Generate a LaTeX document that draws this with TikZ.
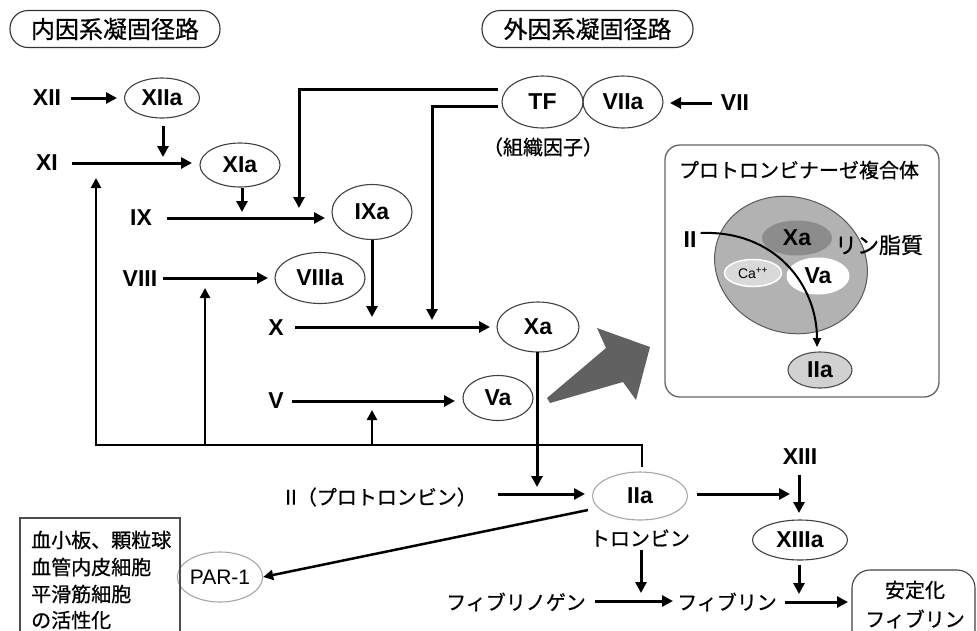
\documentclass[tikz,border=0pt]{standalone}
\usepackage{fontspec}
\setmainfont{Liberation Sans}
\newfontfamily\jp[FakeBold=0.7]{Noto Sans CJK JP}
\usetikzlibrary{arrows.meta,shapes.geometric,calc}
\begin{document}
\begin{tikzpicture}[x=1pt,y=-1pt,
  lbl/.style={font=\fontsize{23}{25}\selectfont\bfseries, inner sep=0pt},
  jtxt/.style={font=\jp\fontsize{20}{22}\selectfont, inner sep=0pt},
  ell/.style={ellipse, draw=black!75, line width=1.1pt, inner sep=0pt, font=\fontsize{23}{25}\selectfont\bfseries},
  lell/.style={ell, draw=black!35},
  arr/.style={line width=3pt, -{Triangle[length=11pt,width=11pt]}},
  farr/.style={line width=2.5pt, -{Triangle[length=10pt,width=10pt]}},
  ln/.style={line width=2.5pt},
  ttl/.style={draw=black!80, line width=1.1pt, rounded corners=18pt, minimum height=37pt, inner sep=0pt, font=\jp\fontsize{24}{26}\selectfont},
]
\useasboundingbox (0,0) rectangle (977,630);

% titles
\node[ttl, minimum width=210pt] (T1) at (115,29) {内因系凝固径路};
\node[ttl, minimum width=211pt] (T2) at (587.5,29) {外因系凝固径路};

% intrinsic pathway
\node[lbl] (XII) at (47,98) {XII};
\node[ell, minimum width=75pt, minimum height=40pt] (XIIa) at (162,98) {XIIa};
\node[lbl] (XI) at (47,163) {XI};
\node[ell, minimum width=80pt, minimum height=44pt] (XIa) at (240,165) {XIa};
\node[lbl] (IX) at (141,218) {IX};
\node[ell, minimum width=80pt, minimum height=55pt] (IXa) at (372,212) {IXa};
\node[lbl] (VIII) at (140,279) {VIII};
\node[ell, minimum width=90pt, minimum height=51pt] (VIIIa) at (320,278) {VIIIa};
\node[lbl] (X) at (276,328) {X};
\node[ell, minimum width=82pt, minimum height=50pt] (Xa) at (538,327) {Xa};
\node[lbl] (V) at (276,401) {V};
\node[ell, minimum width=70pt, minimum height=45pt] (Va) at (498,398) {Va};

% extrinsic
\node[ell, minimum width=81pt, minimum height=52pt] (TF) at (542.5,102) {TF};
\node[ell, minimum width=80pt, minimum height=52pt] (VIIa) at (623,102) {VIIa};
\node[lbl] (VII) at (735,103) {VII};
\node[jtxt] (TFj) at (543,147) {（組織因子）};

\draw[arr] ([xshift=10pt]XII.east) -- (117,98);
\draw[arr] (163,126) -- (163,157);
\draw[arr] (72,163) -- (192,163);
\draw[arr] (242,188) -- (242,212);
\draw[arr] (167,218) -- (325,218);
\draw[arr] (498,89) -- (299,89) -- (299,208);
\draw[arr] (498,106) -- (432,106) -- (432,320);
\draw[arr] (712,103) -- (670,103);
\draw[arr] (372,240) -- (372,317);
\draw[arr] (163,278) -- (268,278);
\draw[arr] (295,327) -- (490,327);
\draw[arr] (292,401) -- (455,401);

% feedback
\draw[ln] (642,467) -- (642,445) -- (96,445);
\draw[farr] (96,446) -- (96,178);
\draw[farr] (205,445) -- (205,288);
\draw[farr] (372,445) -- (372,410);

% common pathway
\draw[arr] (537,352) -- (537,487);
\node[jtxt] (II) at (381,497) {II（プロトロンビン）};
\draw[arr] (498,494) -- (585,494);
\node[lell, minimum width=95pt, minimum height=48pt] (IIa) at (640,496) {IIa};
\node[jtxt] (thr) at (640,538) {トロンビン};
\draw[arr] (697,494) -- (790,494);
\node[lbl] (XIII) at (800,457) {XIII};
\draw[arr] (799,475) -- (799,513);
\node[ell, minimum width=95pt, minimum height=40pt] (XIIIa) at (800,540) {XIIIa};
\draw[arr] (799,565) -- (799,594);
\draw[arr] (641,550) -- (641,593);
\node[jtxt] (fbg) at (516,602) {フィブリノゲン};
\draw[arr] (595,601) -- (673,601);
\node[jtxt] (fb) at (727,602) {フィブリン};
\draw[arr] (785,602) -- (848,602);
\draw[black!75, line width=1.1pt, rounded corners=18pt] (852,570) rectangle (975,660);
\node[jtxt] (st1) at (915,590) {安定化};
\node[jtxt] (st2) at (915,619) {フィブリン};

% PAR-1
\node[lell, minimum width=80pt, minimum height=50pt, font=\fontsize{21}{23}\selectfont] (PAR) at (220,577) {PAR-1};
\draw[farr] (588,510) -- (PAR.east);
\draw[black!70, line width=1.2pt] (20,518) rectangle (180,660);
\node[jtxt, anchor=west] (c1) at (31,540) {血小板、顆粒球};
\node[jtxt, anchor=west] (c2) at (31,567) {血管内皮細胞};
\node[jtxt, anchor=west] (c3) at (31,594) {平滑筋細胞};
\node[jtxt, anchor=west] (c4) at (31,620) {の活性化};

% big gray arrow
\fill[black!62] (547,398) -- (606,348) -- (597,328) -- (650,347) -- (636,400) -- (623,382) -- (550,403) -- cycle;

% prothrombinase complex
\draw[black!60, line width=1.3pt, rounded corners=15pt] (665,145) rectangle (939,397);
\node[jtxt] (pt) at (799,170) {プロトロンビナーゼ複合体};
\node[ellipse, fill=black!30, draw=black!65, line width=1pt, minimum width=155pt, minimum height=135pt, rotate=-20] (lip) at (791,265) {};
\node[ellipse, fill=black!45, minimum width=70pt, minimum height=35pt, inner sep=0pt, font=\fontsize{23}{25}\selectfont\bfseries] (bXa) at (797,238) {Xa};
\node[ellipse, fill=black!15, draw=white, line width=1.5pt, minimum width=57pt, minimum height=27pt, inner sep=0pt, font=\fontsize{14}{16}\selectfont] (Ca) at (753,273) {Ca\textsuperscript{++}};
\node[ellipse, fill=white, minimum width=63pt, minimum height=37pt, inner sep=0pt, font=\fontsize{23}{25}\selectfont\bfseries] (bVa) at (818,276) {Va};
\node[jtxt, font=\jp\fontsize{22}{24}\selectfont] (rin) at (879,245) {リン脂質};
\node[lbl] (bII) at (690,240) {II};
\node[ellipse, fill=black!18, draw=black!70, line width=1.1pt, minimum width=64pt, minimum height=36pt, inner sep=0pt, font=\fontsize{23}{25}\selectfont\bfseries] (bIIa) at (820,370) {IIa};
\draw[line width=2pt, -{Triangle[length=9pt,width=8pt]}] (bII.east) ++(4,-7) .. controls (775,230) and (817,285) .. (817,347);
\end{tikzpicture}
\end{document}
